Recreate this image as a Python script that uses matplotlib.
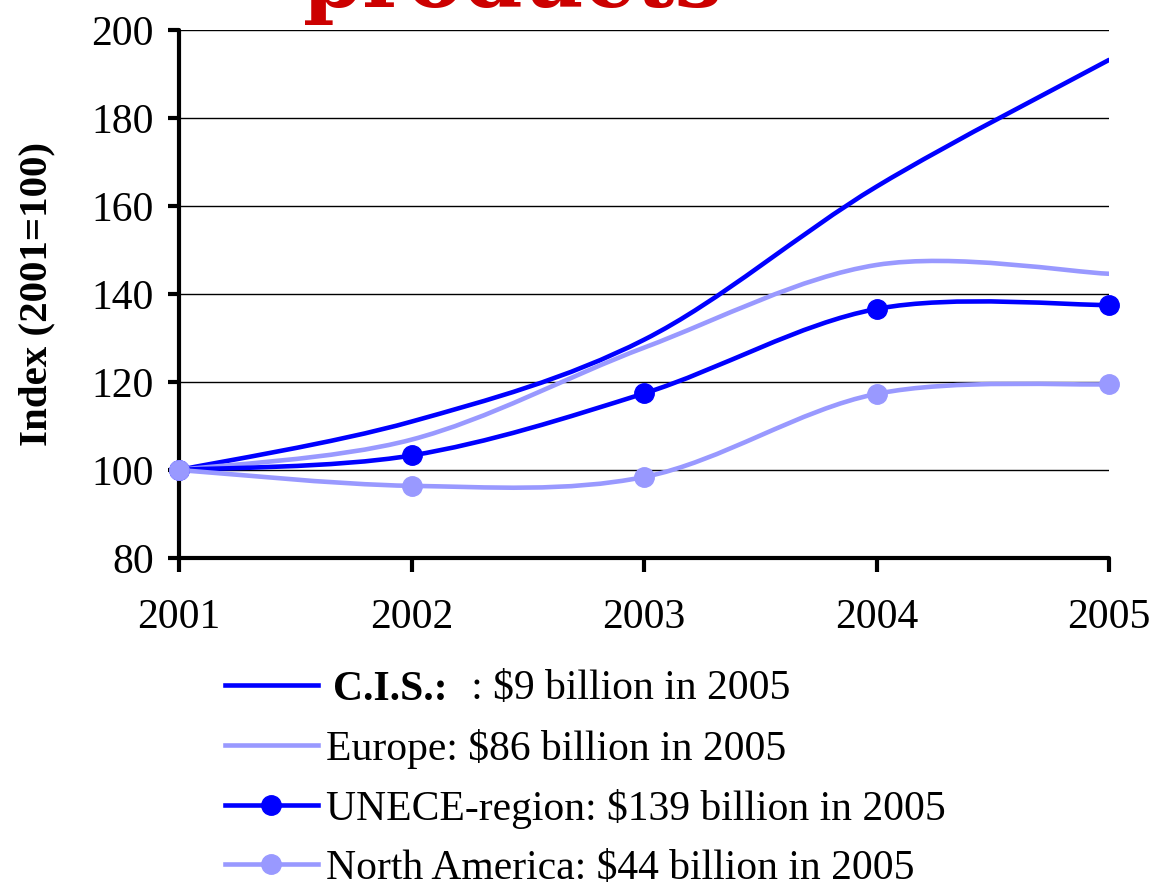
import matplotlib
matplotlib.use("Agg")
import matplotlib.pyplot as plt
from matplotlib.path import Path
from matplotlib.patches import PathPatch
from matplotlib.lines import Line2D
from matplotlib.font_manager import FontProperties
import numpy as np

years = [2001, 2002, 2003, 2004, 2005]
cis = [100, 111.0, 129.6, 164.4, 193.2]
europe = [100, 106.9, 127.8, 146.6, 144.6]
unece = [100, 103.3, 117.4, 136.6, 137.5]
north_america = [100, 96.4, 98.4, 117.3, 119.5]

cis_bold = "C.I.S.:"
labels = ["              : $9 billion in 2005",
          "Europe: $86 billion in 2005",
          "UNECE-region: $139 billion in 2005",
          "North America: $44 billion in 2005"]
yticks = [80, 100, 120, 140, 160, 180, 200]

DARK = "#0000FF"
LIGHT = "#9999FF"
FS = 30
W, H = 1153, 885

plt.rcParams['font.family'] = ['Liberation Serif', 'DejaVu Serif']

fig = plt.figure(figsize=(W / 100, H / 100), dpi=100)
ax = fig.add_axes([179/W, 1 - 558/H, (1109-179)/W, (558-30)/H])


def smooth_path(xs, ys):
    p = np.column_stack([xs, ys]).astype(float)
    n = len(p)
    verts = [p[0]]
    codes = [Path.MOVETO]
    for i in range(n - 1):
        p0 = p[i - 1] if i > 0 else p[i]
        p3 = p[i + 2] if i + 2 < n else p[i + 1]
        c1 = p[i] + (p[i + 1] - p0) / 6.0
        c2 = p[i + 1] - (p3 - p[i]) / 6.0
        verts += [c1, c2, p[i + 1]]
        codes += [Path.CURVE4] * 3
    return Path(verts, codes)


series = [(cis, DARK, False), (europe, LIGHT, False), (unece, DARK, True), (north_america, LIGHT, True)]
handles = []
lw = 3.3
for (vals, col, mk), lab in zip(series, labels):
    patch = PathPatch(smooth_path(years, vals), facecolor='none', edgecolor=col,
                      lw=lw, capstyle='round', joinstyle='round', zorder=3)
    ax.add_patch(patch)
    if mk:
        ax.plot(years, vals, linestyle='none', marker='o', markersize=14,
                color=col, zorder=4, clip_on=False)
    handles.append(Line2D([], [], color=col, lw=lw, marker='o' if mk else None,
                          markersize=14, label=lab))

ax.set_xlim(2001, 2005)
ax.set_ylim(80, 200)
ax.set_xticks(years)
ax.set_xticklabels([str(y) for y in years])
ax.set_yticks(yticks)
ax.yaxis.grid(True, color='black', lw=1.0)
ax.set_axisbelow(True)
for s in ['top', 'right']:
    ax.spines[s].set_visible(False)
for s in ['left', 'bottom']:
    ax.spines[s].set_linewidth(3)
    ax.spines[s].set_capstyle('round')
ax.tick_params(axis='y', which='major', length=8, width=3, direction='out',
               labelsize=FS, pad=10)
ax.tick_params(axis='x', which='major', length=10, width=3, direction='out',
               labelsize=FS, pad=19)
ax.set_ylabel("Index (2001=100)", fontsize=29.5, fontweight='bold', labelpad=26)

leg = fig.legend(handles=handles, loc='upper left', bbox_to_anchor=(225/W, 1 - 670/H),
                 frameon=False, fontsize=FS, handlelength=2.23, handletextpad=0.19,
                 labelspacing=0.485, borderaxespad=0, borderpad=0)

title_fp = FontProperties(family=['DejaVu Serif'], weight='bold', size=62)
title = fig.text(303/W, 1 - 7/H, "products", color='#CC0000', fontproperties=title_fp,
                 ha='left', va='baseline')

fig.canvas.draw()
r = fig.canvas.get_renderer()
# bold part of the first legend entry, placed on its label
bb = leg.get_texts()[0].get_window_extent(r)
fig.text((bb.x0 + 7) / W, bb.y0 / H, cis_bold, fontsize=FS, fontweight='bold',
         ha='left', va='bottom')
# scale title to the reference width
tb = title.get_window_extent(r)
title.set_fontsize(62 * 419 / tb.width)

fig.savefig("out.png", dpi=100)
